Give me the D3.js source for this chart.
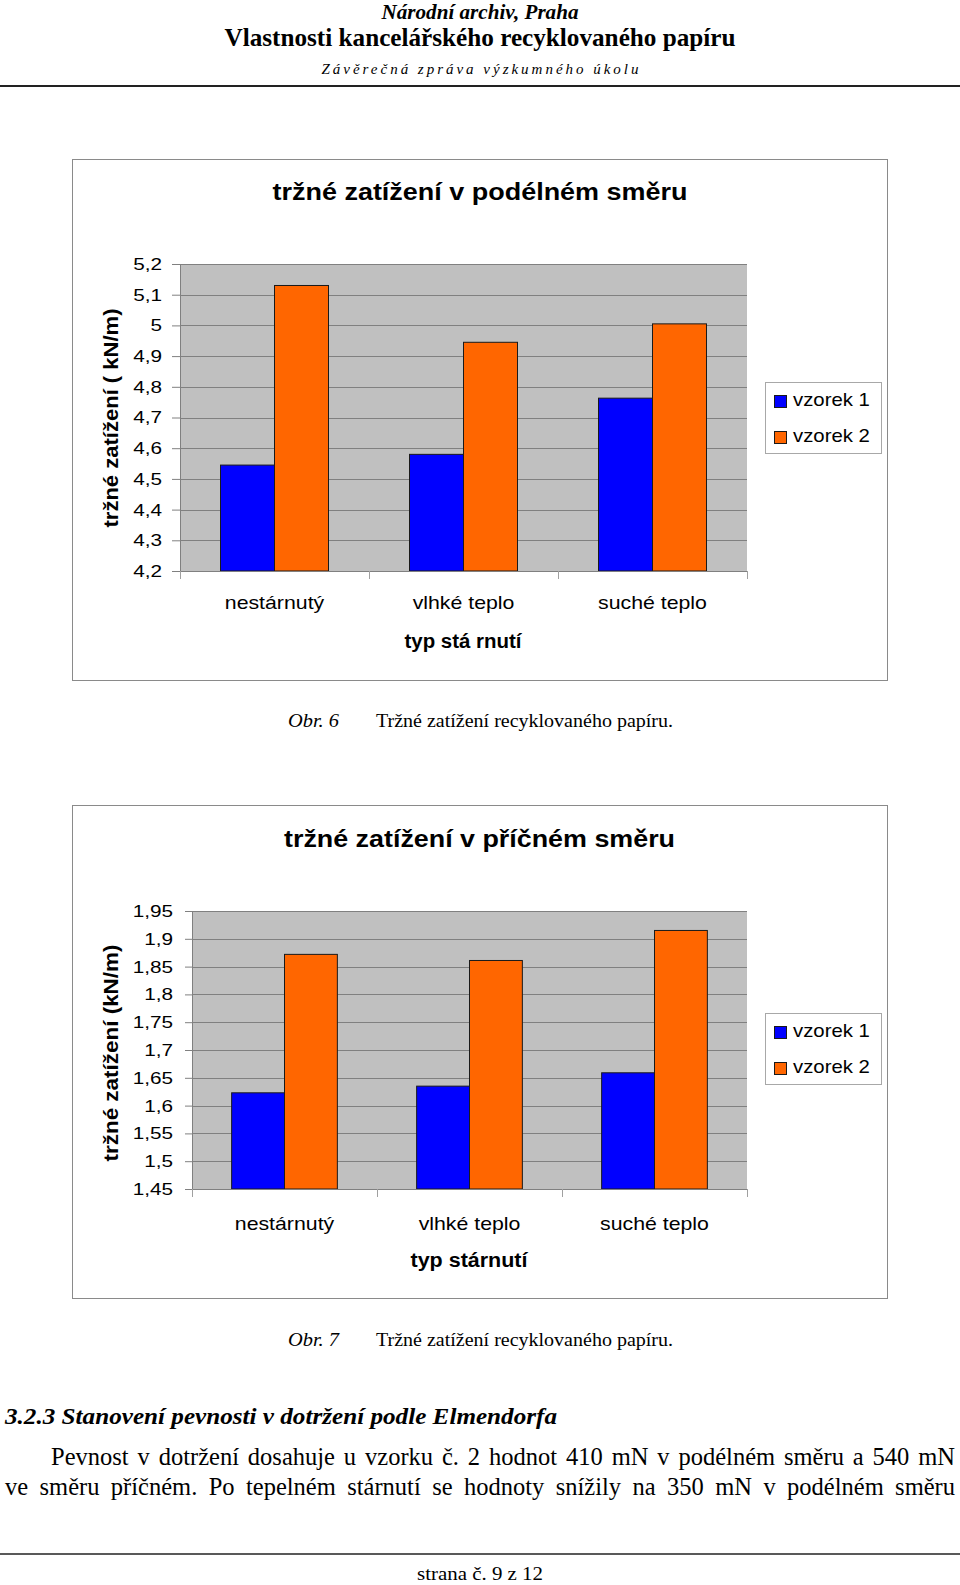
<!DOCTYPE html>
<html>
<head>
<meta charset="utf-8">
<script src="https://cdn.jsdelivr.net/npm/d3@7"></script>
<style>
  html, body { margin: 0; padding: 0; background: #fff; }
  svg { display: block; }
</style>
</head>
<body>
<script>
// ---------- DATA ----------
const categories = ["nestárnutý", "vlhké teplo", "suché teplo"];
const seriesNames = ["vzorek 1", "vzorek 2"];
const podelnyVzorek1 = [4.545, 4.58, 4.763];
const podelnyVzorek2 = [5.13, 4.945, 5.005];
const pricnyVzorek1 = [1.623, 1.635, 1.659];
const pricnyVzorek2 = [1.872, 1.861, 1.915];
const podelnyTicks = [4.2, 4.3, 4.4, 4.5, 4.6, 4.7, 4.8, 4.9, 5.0, 5.1, 5.2];
const pricnyTicks = [1.45, 1.5, 1.55, 1.6, 1.65, 1.7, 1.75, 1.8, 1.85, 1.9, 1.95];
const seriesColors = ["#0000ff", "#ff6600"];

// ---------- PAGE ----------
const W = 960, H = 1585;
const svg = d3.select("body").append("svg").attr("width", W).attr("height", H);
svg.append("rect").attr("width", W).attr("height", H).attr("fill", "#fff");

const SERIF = "'Liberation Serif', 'Times New Roman', serif";
const SANS = "'Liberation Sans', Arial, sans-serif";

function fit(sel, w, mode) { return sel.attr("textLength", w).attr("lengthAdjust", mode || "spacingAndGlyphs"); }
function stretch(sel, f) {
  sel.each(function () {
    const w = this.getComputedTextLength();
    d3.select(this).attr("textLength", w * f).attr("lengthAdjust", "spacingAndGlyphs");
  });
}
function txt(x, y, s, size, opts = {}) {
  const t = svg.append("text").attr("x", x).attr("y", y).text(s)
    .attr("font-family", opts.family || SERIF)
    .attr("font-size", size)
    .attr("font-weight", opts.bold ? "bold" : "normal")
    .attr("font-style", opts.italic ? "italic" : "normal")
    .attr("text-anchor", opts.anchor || "start")
    .attr("fill", "#000");
  if (opts.width) fit(t, opts.width, opts.mode);
  return t;
}
// justify a line by word spacing
function justify(t, w) {
  const natural = t.node().getComputedTextLength();
  const spaces = (t.text().match(/ /g) || []).length;
  if (natural < w && spaces > 0) t.attr("word-spacing", (w - natural) / spaces);
  else fit(t, w);
}

// header
txt(480, 19, "Národní archiv, Praha", 20, { bold: true, italic: true, anchor: "middle", width: 197 });
txt(480, 46, "Vlastnosti kancelářského recyklovaného papíru", 25, { bold: true, anchor: "middle", width: 511 });
txt(480, 74, "Závěrečná zpráva výzkumného úkolu", 15, { italic: true, anchor: "middle", width: 317, mode: "spacing" });
svg.append("line").attr("x1", 0).attr("x2", W).attr("y1", 86).attr("y2", 86)
  .attr("stroke", "#222").attr("stroke-width", 2);

// ---------- CHART ----------
function drawChart(cfg) {
  const g = svg.append("g");
  g.append("rect").attr("x", cfg.box[0] + 0.5).attr("y", cfg.box[1] + 0.5)
    .attr("width", cfg.box[2] - cfg.box[0]).attr("height", cfg.box[3] - cfg.box[1])
    .attr("fill", "#fff").attr("stroke", "#8a8a8a").attr("stroke-width", 1);

  const x0 = d3.scaleBand().domain(categories).range([cfg.left, cfg.right]).paddingInner(0).paddingOuter(0);
  const x1 = d3.scaleBand().domain(seriesNames).range([0, x0.bandwidth()]).paddingInner(0).paddingOuter(0.75);
  const y = d3.scaleLinear().domain([cfg.ticks[0], cfg.ticks[cfg.ticks.length - 1]]).range([cfg.bottom, cfg.top]);

  g.append("rect").attr("x", cfg.left).attr("y", cfg.top)
    .attr("width", cfg.right - cfg.left).attr("height", cfg.bottom - cfg.top).attr("fill", "#c0c0c0");

  g.append("g").selectAll("line").data(cfg.ticks).join("line")
    .attr("x1", cfg.left).attr("x2", cfg.right)
    .attr("y1", d => Math.round(y(d)) + 0.5).attr("y2", d => Math.round(y(d)) + 0.5)
    .attr("stroke", "#808080").attr("stroke-width", 1);

  const groups = g.append("g").selectAll("g").data(categories).join("g")
    .attr("transform", d => `translate(${x0(d)},0)`);
  groups.selectAll("rect")
    .data((c, i) => seriesNames.map((s, k) => ({ s, k, v: cfg.values[k][i] })))
    .join("rect")
    .attr("x", d => x1(d.s)).attr("width", x1.bandwidth())
    .attr("y", d => y(d.v)).attr("height", d => y(cfg.ticks[0]) - y(d.v))
    .attr("fill", d => seriesColors[d.k]).attr("stroke", "#1a1a1a").attr("stroke-width", 1);

  const fmt = v => String(+v.toFixed(2)).replace(".", ",");
  const yAxis = g.append("g").attr("transform", `translate(${cfg.left},0)`)
    .call(d3.axisLeft(y).tickValues(cfg.ticks).tickFormat(fmt).tickSize(cfg.tickLen).tickSizeOuter(0).tickPadding(cfg.tickPad));
  yAxis.select(".domain").attr("stroke", "#808080");
  yAxis.selectAll(".tick line").attr("stroke", "#808080");
  yAxis.selectAll("text").attr("font-family", SANS).attr("font-size", 17).attr("fill", "#000");
  stretch(yAxis.selectAll("text"), 1.22);

  const xAxis = g.append("g").attr("transform", `translate(0,${cfg.bottom})`)
    .call(d3.axisBottom(x0).tickSize(0).tickSizeOuter(0));
  xAxis.select(".domain").attr("stroke", "#808080");
  xAxis.selectAll("text").attr("font-family", SANS).attr("font-size", 19).attr("fill", "#000")
    .attr("y", cfg.xLabelY - cfg.bottom).attr("dy", 0);
  stretch(xAxis.selectAll("text"), 1.12);

  const bounds = categories.map(c => x0(c)).concat([x0(categories[categories.length - 1]) + x0.bandwidth()]);
  g.append("g").selectAll("line").data(bounds).join("line")
    .attr("x1", d => Math.round(d) + 0.5).attr("x2", d => Math.round(d) + 0.5)
    .attr("y1", cfg.bottom).attr("y2", cfg.bottom + 8)
    .attr("stroke", "#a0a0a0");

  // titles
  fit(g.append("text").attr("x", (cfg.left + cfg.right) / 2 + cfg.titleDx).attr("y", cfg.titleY)
    .attr("text-anchor", "middle").attr("font-family", SANS).attr("font-weight", "bold")
    .attr("font-size", 23).text(cfg.title), cfg.titleW);
  fit(g.append("text").attr("transform", `translate(${cfg.yTitleX},${cfg.yTitleY}) rotate(-90)`)
    .attr("text-anchor", "middle").attr("font-family", SANS).attr("font-weight", "bold")
    .attr("font-size", 20).text(cfg.yTitle), cfg.yTitleW);
  fit(g.append("text").attr("x", cfg.xTitleX).attr("y", cfg.xTitleY)
    .attr("text-anchor", "middle").attr("font-family", SANS).attr("font-weight", "bold")
    .attr("font-size", 20).text(cfg.xTitle), 117);

  // legend
  const lg = cfg.legend;
  g.append("rect").attr("x", lg[0] + 0.5).attr("y", lg[1] + 0.5).attr("width", 116).attr("height", 71)
    .attr("fill", "#fff").attr("stroke", "#a8a8a8");
  const items = g.append("g").selectAll("g").data(seriesNames).join("g")
    .attr("transform", (d, i) => `translate(${lg[0]},${lg[1] + 24 + i * 36})`);
  items.append("rect").attr("x", 9.5).attr("y", -10.5).attr("width", 12).attr("height", 12)
    .attr("fill", (d, i) => seriesColors[i]).attr("stroke", "#1a1a1a");
  const lt = items.append("text").attr("x", 28).attr("y", 0).text(d => d)
    .attr("font-family", SANS).attr("font-size", 19).attr("fill", "#000");
  stretch(lt, 1.07);
}

drawChart({
  box: [72, 159, 887, 680],
  left: 180, right: 747, top: 264, bottom: 571,
  ticks: podelnyTicks,
  values: [podelnyVzorek1, podelnyVzorek2],
  tickLen: 8, tickPad: 10,
  xLabelY: 609,
  title: "tržné zatížení v podélném směru", titleY: 200, titleW: 415, titleDx: 16.5,
  yTitle: "tržné zatížení ( kN/m)", yTitleX: 118, yTitleY: 418, yTitleW: 219,
  xTitle: "typ stá rnutí", xTitleX: 463, xTitleY: 648,
  legend: [765, 382]
});

drawChart({
  box: [72, 805, 887, 1298],
  left: 192, right: 747, top: 911, bottom: 1189,
  ticks: pricnyTicks,
  values: [pricnyVzorek1, pricnyVzorek2],
  tickLen: 7, tickPad: 12,
  xLabelY: 1230,
  title: "tržné zatížení v příčném směru", titleY: 847, titleW: 391, titleDx: 10,
  yTitle: "tržné zatížení (kN/m)", yTitleX: 118, yTitleY: 1053, yTitleW: 217,
  xTitle: "typ stárnutí", xTitleX: 469, xTitleY: 1267,
  legend: [765, 1013]
});

// captions
txt(288, 727, "Obr. 6", 18, { italic: true, width: 51 });
txt(376, 727, "Tržné zatížení recyklovaného papíru.", 18, { width: 297 });
txt(288, 1346, "Obr. 7", 18, { italic: true, width: 51 });
txt(376, 1346, "Tržné zatížení recyklovaného papíru.", 18, { width: 297 });

// body text
txt(5, 1424, "3.2.3 Stanovení pevnosti v dotržení podle Elmendorfa", 23, { bold: true, italic: true, width: 552 });
justify(txt(51, 1465, "Pevnost v dotržení dosahuje u vzorku č. 2 hodnot 410 mN v podélném směru a 540 mN", 24.5), 904);
justify(txt(5, 1495, "ve směru příčném. Po tepelném stárnutí se hodnoty snížily na 350 mN v podélném směru", 24.5), 950);

svg.append("line").attr("x1", 0).attr("x2", W).attr("y1", 1554).attr("y2", 1554)
  .attr("stroke", "#222").attr("stroke-width", 1.5);
txt(480, 1580, "strana č. 9 z 12", 18, { anchor: "middle", width: 126 });
</script>
</body>
</html>
